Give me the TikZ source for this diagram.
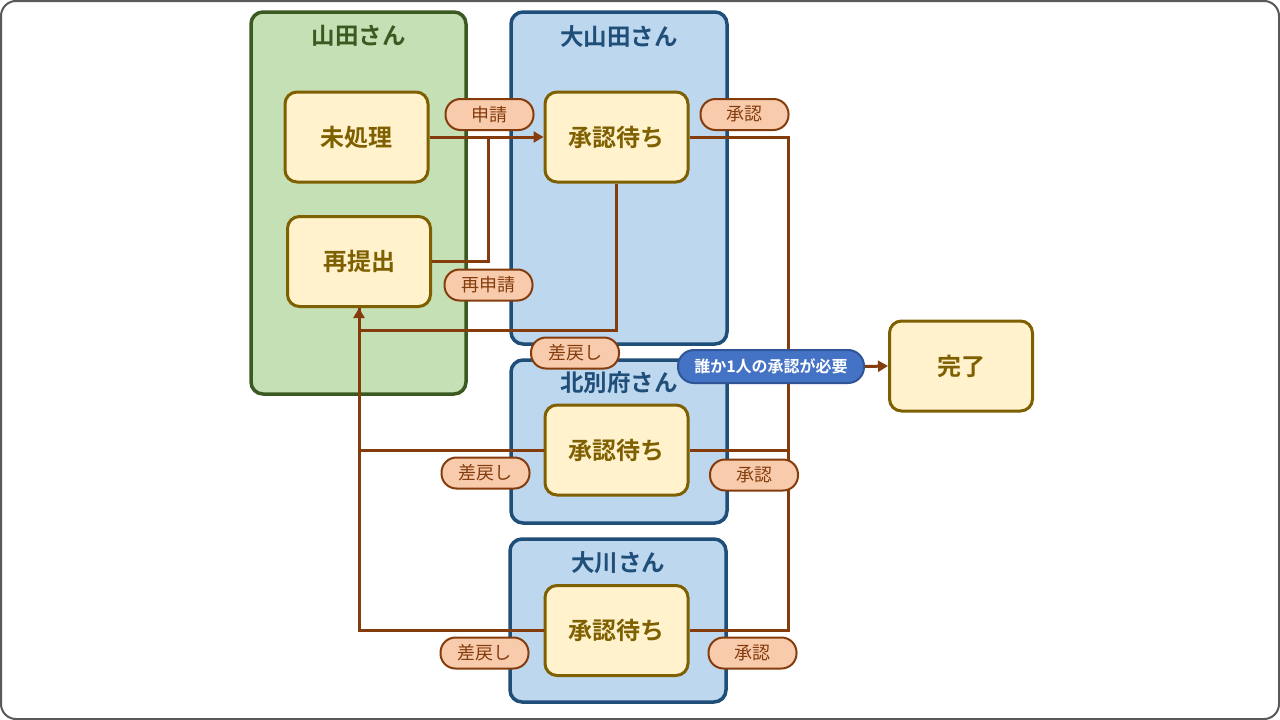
\documentclass[tikz,border=0pt]{standalone}
\usepackage{fontspec}
\setmainfont{Noto Sans CJK JP}[BoldFont={Noto Sans CJK JP Bold}]
\usepackage{tikz}
\usetikzlibrary{arrows.meta,positioning,calc}

\definecolor{greenfill}{HTML}{C5E0B4}
\definecolor{greenline}{HTML}{3A5A22}
\definecolor{bluefill}{HTML}{BDD7EE}
\definecolor{blueline}{HTML}{1F4E79}
\definecolor{statefill}{HTML}{FFF2CC}
\definecolor{stateline}{HTML}{7F6000}
\definecolor{tagfill}{HTML}{F8CBAD}
\definecolor{brownline}{HTML}{843C0C}
\definecolor{notefill}{HTML}{4472C4}
\definecolor{noteline}{HTML}{2F5597}

\begin{document}
\begin{tikzpicture}[x=1pt,y=-1pt,
        lane/.style={draw, line width=3.5pt, rounded corners=12pt},
        greenlane/.style={lane, draw=greenline, fill=greenfill},
        bluelane/.style={lane, draw=blueline, fill=bluefill},
        lanetitle/.style={font=\bfseries\fontsize{23.5}{26}\selectfont},
        state/.style={draw=stateline, fill=statefill, line width=3pt, rounded corners=12pt,
          minimum width=143pt, minimum height=90pt, text=stateline,
          font=\bfseries\fontsize{24}{26}\selectfont},
        tag/.style={draw=brownline, fill=tagfill, line width=2pt, rounded corners=15pt,
          minimum width=88pt, minimum height=31pt, inner sep=0pt, text=brownline,
          font=\fontsize{18}{20}\selectfont},
        flow/.style={brownline, line width=3pt},
        arr/.style={flow, -{Triangle[length=10pt,width=11pt]}}
      ]
        % Rahmen
        \draw[line width=2pt, draw=black!65, fill=white, rounded corners=15pt] (1,1) rectangle (1279,719);
        \useasboundingbox (0,0) rectangle (1280,720);

        % Bahnen
        \node[greenlane, minimum width=215pt, minimum height=382pt] (yamada) at (358.5,203) {};
        \node[bluelane, minimum width=216pt, minimum height=332pt] (oyamada) at (619,178) {};
        \node[bluelane, minimum width=216pt, minimum height=163pt] (kitabeppu) at (619,441.5) {};
        \node[bluelane, minimum width=216pt, minimum height=163pt] (okawa) at (618,620.5) {};
        \node[lanetitle, text=greenline] at ([yshift=-26pt]yamada.north) {山田さん};
        \node[lanetitle, text=blueline] at ([yshift=-26pt]oyamada.north) {大山田さん};
        \node[lanetitle, text=blueline] at ([yshift=-24pt]kitabeppu.north) {北別府さん};
        \node[lanetitle, text=blueline] at ([yshift=-25pt]okawa.north) {大川さん};

        % Zustaende
        \node[state] (mi) at (356.5,137) {未処理};
        \node[state] (re) at (359,261.5) {再提出};
        \node[state] (wa) at (616.5,137) {承認待ち};
        \node[state] (wb) at (616.5,450) {承認待ち};
        \node[state] (wc) at (616.5,630.5) {承認待ち};
        \node[state] (done) at (961,366) {完了};

        \coordinate (join) at (488,137);
        \coordinate (back) at (616.5,330);
        \coordinate (ok) at (788,366);

        % Antrag
        \draw[arr] (mi.east) -- (wa.west);
        \draw[flow] (re.east) -| (join);

        % Ruecksendung
        \draw[flow] (wc.west) -| (re.south);
        \draw[flow] (wb.west) -| (re.south);
        \draw[arr] (wa.south) -- (back) -| (re.south);

        % Genehmigung
        \draw[flow] (wa.east) -| (ok);
        \draw[flow] (wb.east) -| (ok);
        \draw[flow] (wc.east) -| (ok);
        \node[draw=noteline, fill=notefill, line width=2pt, rounded corners=16pt, text=white,
          minimum width=186pt, minimum height=33pt, inner sep=0pt,
          font=\bfseries\fontsize{16}{18}\selectfont] (note) at (771,366.5) {誰か1人の承認が必要};
        \draw[arr] (note.east) -- (done.west);

        % Beschriftungen
        \node[tag] at (489.5,114.5) {申請};
        \node[tag] at (488.5,285) {再申請};
        \node[tag] at (575,353) {差戻し};
        \node[tag] at (485.5,473) {差戻し};
        \node[tag] at (484.5,653) {差戻し};
        \node[tag] at (744.5,114.5) {承認};
        \node[tag] at (754,475) {承認};
        \node[tag] at (752.5,653) {承認};
      \end{tikzpicture}
\end{document}
